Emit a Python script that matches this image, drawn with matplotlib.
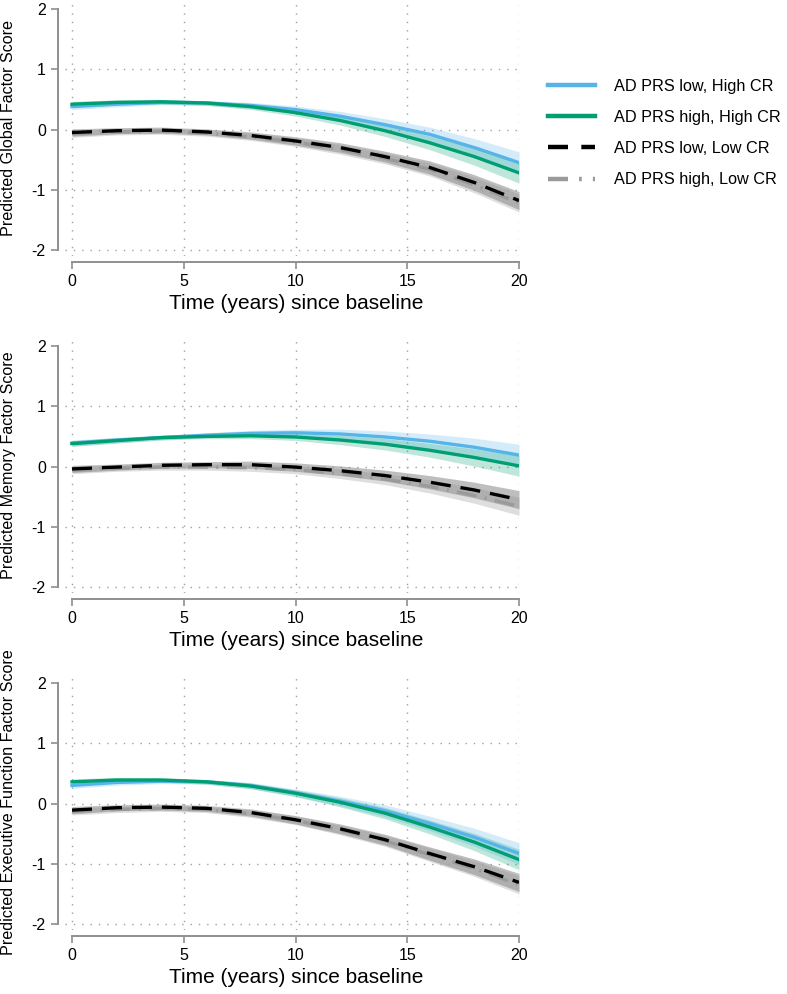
import matplotlib
matplotlib.use("Agg")
import matplotlib.pyplot as plt
from matplotlib.lines import Line2D
import numpy as np

plt.rcParams['font.family'] = ['Liberation Sans', 'DejaVu Sans']

years = [0, 2, 4, 6, 8, 10, 12, 14, 16, 18, 20]

# Global factor score
global_low_high = [0.38, 0.42, 0.45, 0.44, 0.40, 0.33, 0.22, 0.08, -0.08, -0.30, -0.55]
global_high_high = [0.42, 0.45, 0.46, 0.44, 0.38, 0.28, 0.15, -0.02, -0.22, -0.45, -0.72]
global_low_low = [-0.05, -0.02, -0.01, -0.04, -0.10, -0.19, -0.30, -0.45, -0.63, -0.88, -1.18]
global_high_low = [-0.07, -0.04, -0.03, -0.06, -0.12, -0.21, -0.33, -0.48, -0.66, -0.92, -1.22]

# Memory factor score
memory_low_high = [0.39, 0.44, 0.48, 0.52, 0.55, 0.56, 0.54, 0.49, 0.42, 0.32, 0.19]
memory_high_high = [0.38, 0.43, 0.48, 0.50, 0.51, 0.49, 0.44, 0.37, 0.27, 0.15, 0.01]
memory_low_low = [-0.04, -0.01, 0.02, 0.03, 0.03, -0.01, -0.07, -0.15, -0.26, -0.39, -0.55]
memory_high_low = [-0.06, -0.03, -0.01, -0.01, -0.02, -0.05, -0.12, -0.21, -0.33, -0.48, -0.66]

# Executive function factor score
exec_low_high = [0.30, 0.35, 0.37, 0.36, 0.30, 0.18, 0.04, -0.12, -0.33, -0.56, -0.83]
exec_high_high = [0.36, 0.39, 0.39, 0.36, 0.29, 0.17, 0.02, -0.16, -0.39, -0.64, -0.93]
exec_low_low = [-0.11, -0.07, -0.06, -0.08, -0.15, -0.27, -0.42, -0.60, -0.83, -1.05, -1.31]
exec_high_low = [-0.13, -0.10, -0.08, -0.10, -0.17, -0.28, -0.44, -0.62, -0.85, -1.08, -1.35]

# CI half-widths
ci_high_cr = [0.05, 0.045, 0.04, 0.04, 0.05, 0.06, 0.08, 0.10, 0.12, 0.15, 0.18]
ci_low_cr = [0.06, 0.05, 0.05, 0.05, 0.06, 0.07, 0.08, 0.09, 0.11, 0.13, 0.15]

labels = ["AD PRS low, High CR", "AD PRS high, High CR",
          "AD PRS low, Low CR", "AD PRS high, Low CR"]
ylabels = ["Predicted Global Factor Score", "Predicted Memory Factor Score",
           "Predicted Executive Function Factor Score"]

panels = [
    (global_low_high, global_high_high, global_low_low, global_high_low),
    (memory_low_high, memory_high_high, memory_low_low, memory_high_low),
    (exec_low_high, exec_high_high, exec_low_low, exec_high_low),
]

blue = '#56B4E9'
green = '#009E73'
axis_grey = '#8f8f8f'

W, H = 787, 994
fig = plt.figure(figsize=(W / 100, H / 100), dpi=100)

left_px, right_px = 65.3, 519
tops = [0, 337, 674]
box_h = 256

x = np.array(years)
for k, (lh, hh, ll, hl) in enumerate(panels):
    top = tops[k]
    ax = fig.add_axes([left_px / W, 1 - (top + box_h) / H,
                       (right_px - left_px) / W, box_h / H])
    ax.set_xlim(-0.3, 20)
    ax.set_ylim(-2.1, 2.15)

    for v in [0, 5, 10, 15, 20]:
        ax.axvline(v, color='#a0a0a0', lw=1.0, ls=(0, (1, 5)), zorder=0)
    for v in [-2, -1, 0, 1]:
        ax.axhline(v, color='#a0a0a0', lw=1.0, ls=(0, (1, 5)), zorder=0)

    lh, hh, ll, hl = map(np.array, (lh, hh, ll, hl))
    chi = np.array(ci_high_cr)
    clo = np.array(ci_low_cr)
    ax.fill_between(x, hl - clo, hl + clo, color='#c8c8c8', alpha=0.6, lw=0, zorder=1)
    ax.fill_between(x, ll - clo, ll + clo, color='#8a8a8a', alpha=0.55, lw=0, zorder=1)
    ax.fill_between(x, lh - chi, lh + chi, color=blue, alpha=0.25, lw=0, zorder=1)
    ax.fill_between(x, hh - chi * 0.95, hh + chi * 0.95, color=green, alpha=0.25, lw=0, zorder=1)

    ax.plot(x, lh, color=blue, lw=2.4, zorder=3)
    ax.plot(x, hh, color=green, lw=2.4, zorder=3)
    ax.plot(x, hl, color='#9a9a9a', lw=2.4, dashes=(6, 2.5, 0.6, 2.5), zorder=3)
    ax.plot(x, ll, color='black', lw=2.4, dashes=(6, 3), zorder=4)

    for s in ['top', 'right']:
        ax.spines[s].set_visible(False)
    ax.spines['left'].set_position(('outward', 5))
    ax.spines['bottom'].set_position(('outward', 4.3))
    ax.spines['left'].set_bounds(-2, 2)
    ax.spines['bottom'].set_bounds(0, 20)
    for s in ['left', 'bottom']:
        ax.spines[s].set_color(axis_grey)
        ax.spines[s].set_linewidth(1.4)

    ax.set_xticks([0, 5, 10, 15, 20])
    ax.set_yticks([-2, -1, 0, 1, 2])
    ax.set_yticklabels(['-2', '-1', '0', '1', '2'])
    ax.tick_params(axis='both', colors=axis_grey, labelcolor='black',
                   labelsize=11.5, length=5, width=1.2, pad=4)

    ax.set_xlabel("Time (years) since baseline", fontsize=15)
    ax.xaxis.set_label_coords(0.508, -0.15)
    ax.set_ylabel(ylabels[k], fontsize=11.6)
    ax.yaxis.set_label_coords(-0.108, 0.5)

handles = [
    Line2D([], [], color=blue, lw=3.2),
    Line2D([], [], color=green, lw=3.2),
    Line2D([], [], color='black', lw=3.2, dashes=(4.5, 3)),
    Line2D([], [], color='#9a9a9a', lw=3.2, dashes=(4.5, 2.5, 0.6, 2.5)),
]
fig.legend(handles, labels, loc='upper left', bbox_to_anchor=(533 / W, 1 - 64 / H),
           frameon=False, fontsize=11.7, handlelength=2.9, handletextpad=1.2,
           labelspacing=1.0)

fig.savefig("out.png", dpi=100)
